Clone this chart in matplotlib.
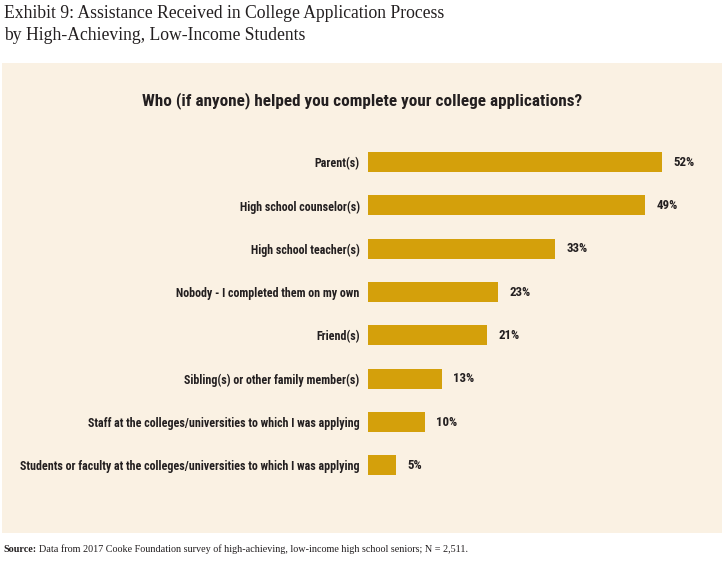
import matplotlib.pyplot as plt
from matplotlib.patches import Rectangle
from matplotlib import font_manager as fm

categories = ['Parent(s)', 'High school counselor(s)', 'High school teacher(s)',
              'Nobody - I completed them on my own', 'Friend(s)',
              'Sibling(s) or other family member(s)',
              'Staff at the colleges/universities to which I was applying',
              'Students or faculty at the colleges/universities to which I was applying']
values = [52, 49, 33, 23, 21, 13, 10, 5]

# find a bold condensed face if one is installed
def pick_condensed():
    fonts = fm.fontManager.ttflist
    prefs = ['Liberation Sans Narrow', 'Roboto Condensed', 'Open Sans Condensed',
             'Noto Sans Condensed', 'DejaVu Sans']
    for name in prefs:
        for f in fonts:
            if f.name == name and f.weight in ('bold', 700, 'semibold', 600) \
                    and ('ondensed' in str(f.stretch) or 'Narrow' in f.fname or 'Condensed' in f.fname):
                return f.fname
    for f in fonts:
        if ('Condensed' in f.fname or 'Narrow' in f.fname) and 'Bold' in f.fname:
            return f.fname
    return None

cfile = pick_condensed()
def cprop(size):
    if cfile:
        return fm.FontProperties(fname=cfile, size=size)
    return fm.FontProperties(family='DejaVu Sans', weight='bold', stretch='condensed', size=size)

W, H = 728, 562
fig = plt.figure(figsize=(W / 100, H / 100), dpi=100)
fig.patch.set_facecolor('white')

serif = ['Liberation Serif', 'DejaVu Serif']
dark = '#231f20'
gold = '#d4a00b'

# cream panel
fig.patches.append(Rectangle((2 / W, 1 - 533 / H), 720 / W, 470 / H,
                             transform=fig.transFigure, facecolor='#faf1e3',
                             edgecolor='none', zorder=-5))

fig.text(4 / W, 1 - 14 / H, 'Exhibit 9: Assistance Received in College Application Process',
         family=serif, fontsize=12.7, color=dark, va='center', ha='left')
fig.text(4 / W, 1 - 36 / H, 'by High-Achieving, Low-Income Students',
         family=serif, fontsize=12.7, color=dark, va='center', ha='left')
fig.text(362 / W, 1 - 101 / H, 'Who (if anyone) helped you complete your college applications?',
         fontproperties=cprop(12.3), color=dark, ha='center', va='center')

fig.text(3 / W, 1 - 549 / H, 'Source:', family=serif, fontsize=7.3,
         fontweight='bold', color=dark, va='center', ha='left')
fig.text(39 / W, 1 - 549 / H, 'Data from 2017 Cooke Foundation survey of high-achieving, '
         'low-income high school seniors; N = 2,511.',
         family=serif, fontsize=7.3, color=dark, va='center', ha='left')

ax = fig.add_axes([368 / W, 1 - 487 / H, 352 / W, 346.6 / H])
ax.set_facecolor('none')
y = list(range(len(categories)))
ax.barh(y, values, height=0.46, color=gold)
ax.set_xlim(0, 352 / 5.66)
ax.set_ylim(len(categories) - 0.5, -0.5)
ax.set_yticks(y)
ax.set_yticklabels(categories, color=dark)
for lab in ax.get_yticklabels():
    lab.set_fontproperties(cprop(8.65))
ax.tick_params(axis='y', length=0, pad=6)
ax.set_xticks([])
for s in ax.spines.values():
    s.set_visible(False)
for yi, v in zip(y, values):
    ax.text(v + 2.0, yi, f'{v}%', fontproperties=cprop(9.3),
            color=dark, va='center', ha='left')

fig.savefig('out.png', dpi=100, facecolor='white')
